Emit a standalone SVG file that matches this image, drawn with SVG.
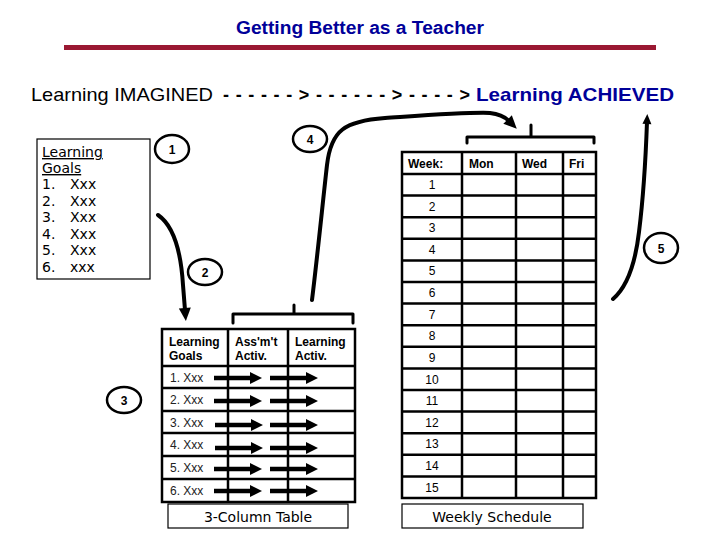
<svg xmlns="http://www.w3.org/2000/svg" width="720" height="540" viewBox="0 0 720 540">
  <style>
    .hd { font-family: "Liberation Sans", Arial, sans-serif; }
    .vd { font-family: "DejaVu Sans", Verdana, sans-serif; }
    .blue { fill: #000099; }
    .circ { fill: none; stroke: #000; stroke-width: 2.5; }
    .num { font-family: "Liberation Sans", Arial, sans-serif; font-size: 12px; font-weight: bold; text-anchor: middle; }
    .grid { stroke: #000; stroke-width: 2.5; fill: none; }
    .th { font-family: "Liberation Sans", Arial, sans-serif; font-size: 12px; font-weight: bold; }
    .td { font-family: "Liberation Sans", Arial, sans-serif; font-size: 12px; fill: #222; }
    .wk { font-family: "Liberation Sans", Arial, sans-serif; font-size: 12px; text-anchor: middle; }
    .curve { fill: none; stroke: #000; stroke-width: 4; stroke-linecap: round; stroke-linejoin: round; }
    .brk { fill: none; stroke: #000; stroke-width: 3; stroke-linecap: round; stroke-linejoin: round; }
    .lbl { fill: #fff; stroke: #000; stroke-width: 1.2; }
  </style>
  <defs>
    <marker id="ah" markerUnits="userSpaceOnUse" markerWidth="14" markerHeight="12" refX="2" refY="6" orient="auto" overflow="visible">
      <path d="M0,0 L13,6 L0,12 z" fill="#000"/>
    </marker>
    <marker id="ahs" markerUnits="userSpaceOnUse" markerWidth="10" markerHeight="9" refX="2" refY="4.5" orient="auto" overflow="visible">
      <path d="M0,0 L10,4.5 L0,9 z" fill="#000"/>
    </marker>
    <path id="ra" d="M0,-2.2 L36,-2.2 L36,-6 L48,0 L36,6 L36,2.2 L0,2.2 z" fill="#000"/>
  </defs>

  <rect width="720" height="540" fill="#fff"/>

  <g id="title">
    <text class="hd blue" x="360" y="34" font-size="18" font-weight="bold" text-anchor="middle" textLength="248" lengthAdjust="spacingAndGlyphs">Getting Better as a Teacher</text>
    <rect x="64" y="45" width="592" height="5" fill="#9a1832"/>
  </g>

  <g id="header">
    <text class="hd" x="31" y="101" font-size="19" textLength="182" lengthAdjust="spacingAndGlyphs">Learning IMAGINED</text>
    <text class="hd" x="223" y="101" font-size="18" font-weight="bold" textLength="247" lengthAdjust="spacing">------&gt;------&gt;----&gt;</text>
    <text class="hd blue" x="476" y="101" font-size="19" font-weight="bold" textLength="198" lengthAdjust="spacingAndGlyphs">Learning ACHIEVED</text>
  </g>

  <g id="goals-box">
    <rect x="37" y="139" width="113" height="140" fill="#fff" stroke="#000" stroke-width="1.2"/>
    <g class="vd" font-size="14">
      <text x="42" y="157" text-decoration="underline">Learning</text>
      <text x="42" y="173" text-decoration="underline">Goals</text>
      <text x="42" y="189">1.</text><text x="70" y="189">Xxx</text>
      <text x="42" y="206">2.</text><text x="70" y="206">Xxx</text>
      <text x="42" y="222">3.</text><text x="70" y="222">Xxx</text>
      <text x="42" y="239">4.</text><text x="70" y="239">Xxx</text>
      <text x="42" y="255">5.</text><text x="70" y="255">Xxx</text>
      <text x="42" y="272">6.</text><text x="70" y="272">xxx</text>
    </g>
  </g>

  <g id="step-1"><ellipse class="circ" cx="172" cy="149" rx="17" ry="14"/><text class="num" x="172" y="154">1</text></g>
  <g id="step-2"><ellipse class="circ" cx="205" cy="272" rx="17" ry="13"/><text class="num" x="205" y="277">2</text></g>
  <g id="step-3"><ellipse class="circ" cx="124" cy="400" rx="17" ry="13"/><text class="num" x="124" y="405">3</text></g>
  <g id="step-4"><ellipse class="circ" cx="310" cy="139" rx="17" ry="13"/><text class="num" x="310" y="144">4</text></g>
  <g id="step-5"><ellipse class="circ" cx="661" cy="248" rx="17" ry="15"/><text class="num" x="661" y="253">5</text></g>

  <g id="three-column-table">
    <rect class="grid" x="162" y="329" width="193" height="173"/>
    <path class="grid" d="M228,329 V502 M288,329 V502 M162,366 H355 M162,388 H355 M162,411 H355 M162,433 H355 M162,456 H355 M162,479 H355"/>
    <text class="th" x="169" y="346">Learning</text>
    <text class="th" x="169" y="360">Goals</text>
    <text class="th" x="235" y="346">Ass'm't</text>
    <text class="th" x="235" y="360">Activ.</text>
    <text class="th" x="295" y="346">Learning</text>
    <text class="th" x="295" y="360">Activ.</text>
    <text class="td" x="170" y="382">1.  Xxx</text>
    <text class="td" x="170" y="404">2.  Xxx</text>
    <text class="td" x="170" y="427">3. Xxx</text>
    <text class="td" x="170" y="449">4. Xxx</text>
    <text class="td" x="170" y="472">5. Xxx</text>
    <text class="td" x="170" y="495">6. Xxx</text>
    <use href="#ra" x="214" y="378"/><use href="#ra" x="270" y="378"/>
    <use href="#ra" x="214" y="401"/><use href="#ra" x="270" y="401"/>
    <use href="#ra" x="215" y="425"/><use href="#ra" x="270" y="425"/>
    <use href="#ra" x="215" y="448"/><use href="#ra" x="270" y="448"/>
    <use href="#ra" x="214" y="469"/><use href="#ra" x="270" y="469"/>
    <use href="#ra" x="214" y="491"/><use href="#ra" x="270" y="491"/>
  </g>
  <g id="three-column-label">
    <rect class="lbl" x="168" y="504" width="180" height="24"/>
    <text class="vd" x="258" y="522" font-size="14" text-anchor="middle">3-Column Table</text>
  </g>

  <g id="weekly-table">
    <rect class="grid" x="402" y="152" width="194" height="346"/>
    <path class="grid" d="M462,152 V498 M516,152 V498 M563,152 V498
      M402,174 H596 M402,195.6 H596 M402,217.2 H596 M402,238.8 H596 M402,260.4 H596
      M402,282 H596 M402,303.6 H596 M402,325.2 H596 M402,346.8 H596 M402,368.4 H596
      M402,390 H596 M402,411.6 H596 M402,433.2 H596 M402,454.8 H596 M402,476.4 H596"/>
    <text class="th" x="408" y="168">Week:</text>
    <text class="th" x="469" y="168">Mon</text>
    <text class="th" x="522" y="168">Wed</text>
    <text class="th" x="569" y="168">Fri</text>
    <text class="wk" x="432" y="189">1</text>
    <text class="wk" x="432" y="211">2</text>
    <text class="wk" x="432" y="232">3</text>
    <text class="wk" x="432" y="254">4</text>
    <text class="wk" x="432" y="275">5</text>
    <text class="wk" x="432" y="297">6</text>
    <text class="wk" x="432" y="319">7</text>
    <text class="wk" x="432" y="340">8</text>
    <text class="wk" x="432" y="362">9</text>
    <text class="wk" x="432" y="384">10</text>
    <text class="wk" x="432" y="405">11</text>
    <text class="wk" x="432" y="427">12</text>
    <text class="wk" x="432" y="448">13</text>
    <text class="wk" x="432" y="470">14</text>
    <text class="wk" x="432" y="492">15</text>
  </g>
  <g id="weekly-label">
    <rect class="lbl" x="402" y="504" width="181" height="24"/>
    <text class="vd" x="492" y="522" font-size="14" text-anchor="middle">Weekly Schedule</text>
  </g>

  <g id="connectors">
    <path class="brk" d="M233,323 V314 H353 V323 M294,314 V305"/>
    <path class="brk" d="M467,143 V137 H594 V143 M531,137 V125"/>
    <path class="curve" d="M158,215 C174,226 181,252 183,285 L185,310" marker-end="url(#ah)"/>
    <path class="curve" d="M312,300 C317,260 323,200 327,165 C331,130 345,121 385,118 C430,115 470,112 490,113 C500,114 505,117 509,121" marker-end="url(#ah)"/>
    <path class="curve" d="M613,299 C627,287 635,266 639,232 C644,192 646,150 647,122" stroke-width="3.5" marker-end="url(#ahs)"/>
  </g>
</svg>
